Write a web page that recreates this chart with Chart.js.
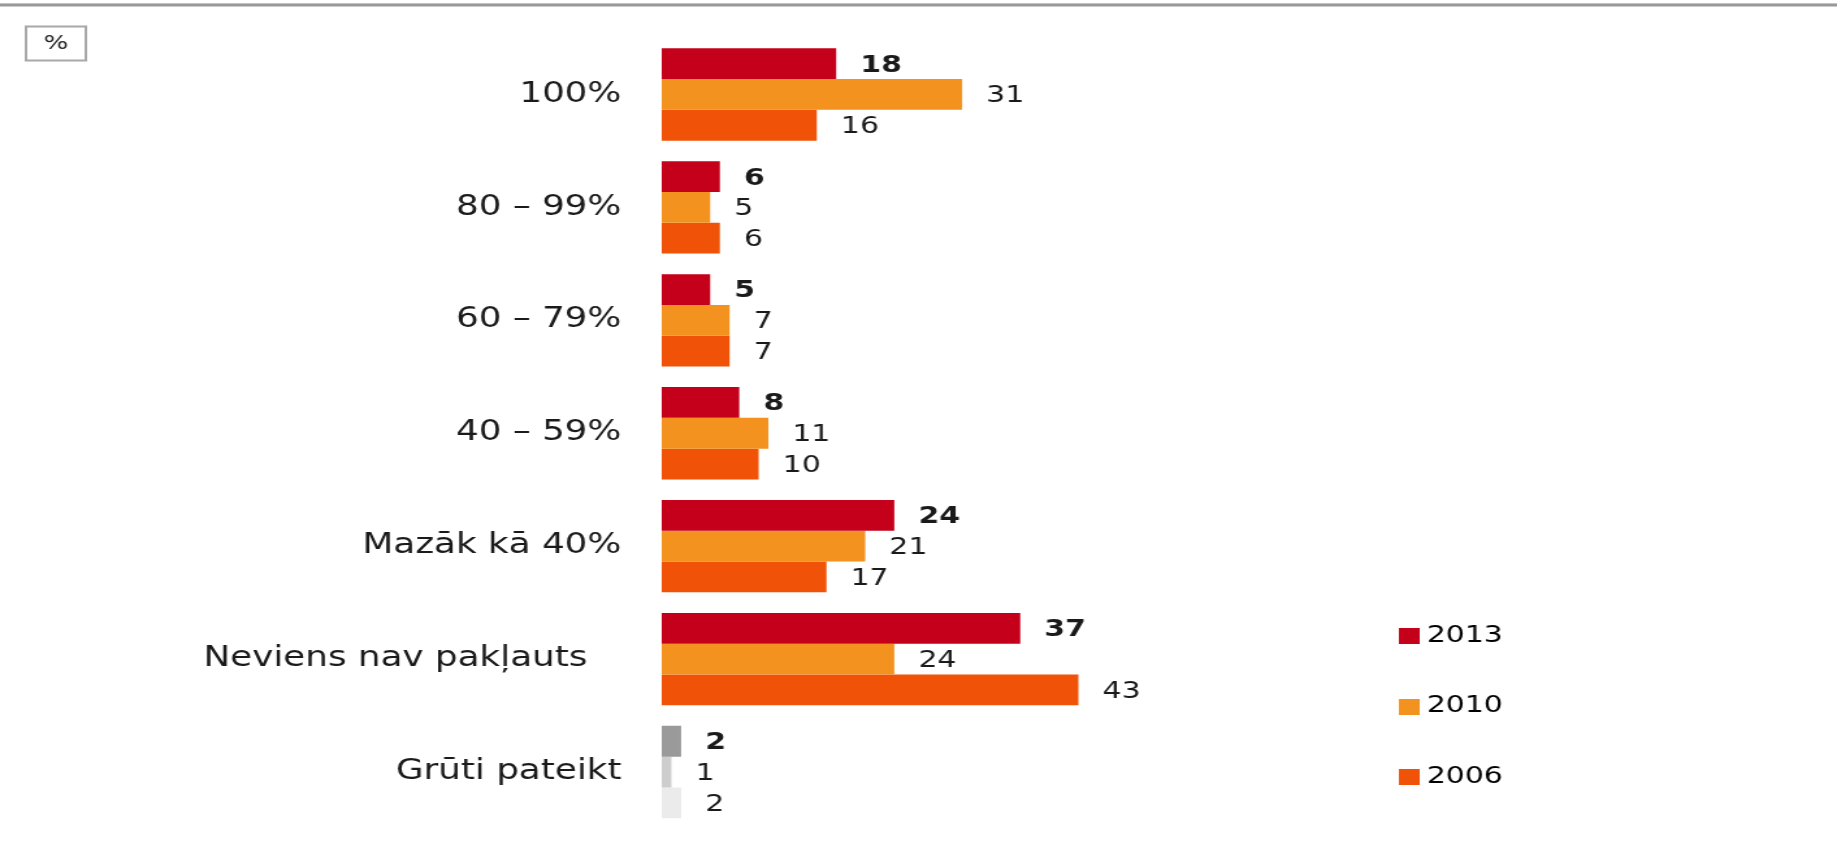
<!DOCTYPE html>
<html>
<head>
<meta charset="utf-8">
<script src="https://cdn.jsdelivr.net/npm/chart.js@4"></script>
<style>
  html, body { margin: 0; padding: 0; background: #ffffff; overflow: hidden; }
</style>
</head>
<body>
<canvas id="c" width="1413" height="848" style="display:block;width:1837px;height:848px;"></canvas>
<script>
// ---- data ----
const categories = ['100%', '80 – 99%', '60 – 79%', '40 – 59%', 'Mazāk kā 40%', 'Neviens nav pakļauts   ', 'Grūti pateikt'];
const seriesNames = ['2013', '2010', '2006'];
const values2013 = [18, 6, 5, 8, 24, 37, 2];
const values2010 = [31, 5, 7, 11, 21, 24, 1];
const values2006 = [16, 6, 7, 10, 17, 43, 2];
const xMax = 70.5;

// ---- styles ----
const seriesColors = ['#C4001A', '#F4921F', '#F05308'];
const grayColors = ['#9A9A9A', '#CDCDCD', '#EBEBEB'];
const grayCategoryIndex = 6;
const FONT = "'DejaVu Sans', Verdana, sans-serif";

const seriesValues = [values2013, values2010, values2006];

const datasets = seriesNames.map((name, i) => ({
  label: name,
  data: seriesValues[i],
  backgroundColor: (ctx) => ctx.dataIndex === grayCategoryIndex ? grayColors[i] : seriesColors[i],
  borderWidth: 0,
  barPercentage: 1,
  categoryPercentage: 0.818
}));

// small square swatches for the legend
function swatch(color) {
  const c = document.createElement('canvas');
  c.width = 16; c.height = 16;
  const g = c.getContext('2d');
  g.fillStyle = color;
  g.fillRect(0, 0, 16, 16);
  return c;
}
const swatches = seriesColors.map(swatch);

const valueLabels = {
  id: 'valueLabels',
  afterDatasetsDraw(chart) {
    const ctx = chart.ctx;
    ctx.save();
    ctx.textAlign = 'left';
    ctx.textBaseline = 'middle';
    ctx.fillStyle = '#1a1a1a';
    chart.data.datasets.forEach((ds, di) => {
      const meta = chart.getDatasetMeta(di);
      ctx.font = (di === 0 ? 'bold ' : '') + '23px ' + FONT;
      meta.data.forEach((bar, idx) => {
        ctx.fillText(String(ds.data[idx]), bar.x + 18.5, bar.y + 2);
      });
    });
    ctx.restore();
  }
};

const decorations = {
  id: 'decorations',
  afterDraw(chart) {
    const ctx = chart.ctx;
    ctx.save();
    // top rule
    ctx.fillStyle = '#c4c4c4';
    ctx.fillRect(0, 3, chart.width, 1);
    ctx.fillStyle = '#999999';
    ctx.fillRect(0, 4, chart.width, 2);
    ctx.fillStyle = '#cccccc';
    ctx.fillRect(0, 6, chart.width, 1);
    // "%" unit box
    ctx.strokeStyle = '#a8a8a8';
    ctx.lineWidth = 2;
    ctx.strokeRect(20, 26.5, 46, 34);
    ctx.fillStyle = '#222';
    ctx.font = '20px ' + FONT;
    ctx.textAlign = 'center';
    ctx.textBaseline = 'middle';
    ctx.fillText('%', 43, 43.5);
    ctx.restore();
  }
};

const canvas = document.getElementById('c');
new Chart(canvas, {
  type: 'bar',
  data: { labels: categories, datasets },
  options: {
    indexAxis: 'y',
    responsive: false,
    devicePixelRatio: 1,
    animation: false,
    layout: { padding: { top: 38, bottom: 12, left: 0, right: 247 } },
    scales: {
      x: {
        min: 0,
        max: xMax,
        display: true,
        grid: { display: false, drawTicks: false },
        border: { display: false },
        ticks: { display: false },
        afterFit(scale) { scale.height = 7.5; }
      },
      y: {
        grid: { display: false, drawTicks: false },
        border: { display: false },
        ticks: {
          padding: 31,
          color: '#1a1a1a',
          font: { family: FONT, size: 27.5 }
        },
        afterFit(scale) {
          scale.width = 509;
          scale.paddingTop = 0;
          scale.paddingBottom = 0;
        }
      }
    },
    plugins: {
      legend: {
        position: 'right',
        align: 'end',
        labels: {
          usePointStyle: true,
          pointStyleWidth: 4,
          boxHeight: 16,
          padding: 47.5,
          color: '#1a1a1a',
          font: { family: FONT, size: 23 },
          generateLabels(chart) {
            return chart.data.datasets.map((ds, i) => ({
              text: ds.label,
              fillStyle: seriesColors[i],
              strokeStyle: seriesColors[i],
              pointStyle: swatches[i],
              lineWidth: 0,
              hidden: false,
              datasetIndex: i
            }));
          }
        }
      },
      tooltip: { enabled: false },
      title: { display: false }
    }
  },
  plugins: [valueLabels, decorations]
});
canvas.style.width = '1837px';
canvas.style.height = '848px';
</script>
</body>
</html>
